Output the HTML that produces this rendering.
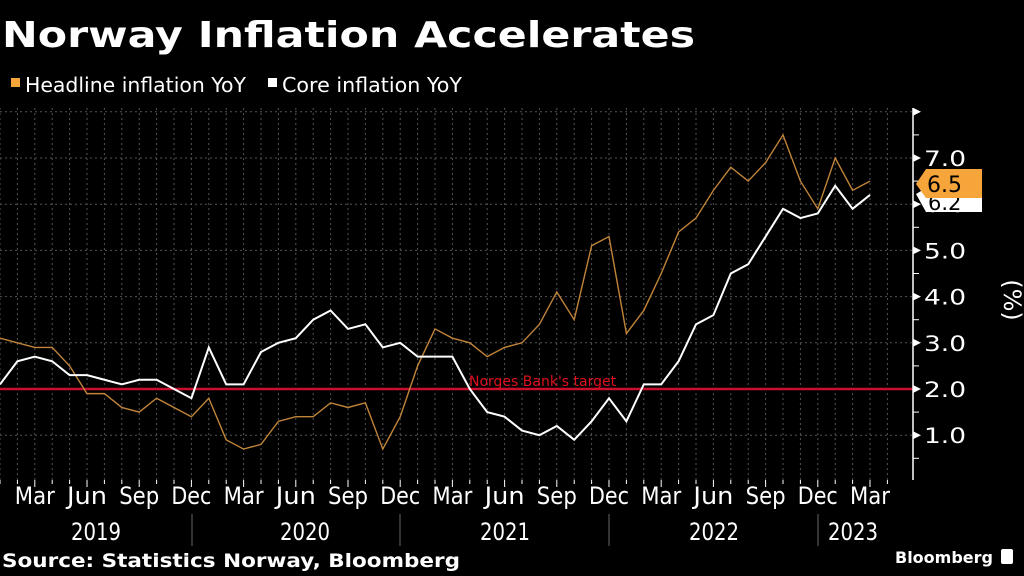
<!DOCTYPE html>
<html><head><meta charset="utf-8"><style>
html,body{margin:0;padding:0;background:#000;}
svg{display:block}
</style></head><body>
<svg id="s" width="1024" height="576" viewBox="0 0 1024 576" xmlns="http://www.w3.org/2000/svg" font-family="'DejaVu Sans', sans-serif">
<rect width="1024" height="576" fill="#000"/>
<text x="2" y="47" fill="#fff" font-size="36" font-weight="bold" textLength="693" lengthAdjust="spacingAndGlyphs">Norway Inflation Accelerates</text>
<rect x="11" y="78" width="9" height="9" fill="#f6a53b"/>
<text x="25" y="92" fill="#fff" font-size="20" textLength="221" lengthAdjust="spacingAndGlyphs">Headline inflation YoY</text>
<rect x="268" y="78" width="9" height="9" fill="#fff"/>
<text x="282" y="92" fill="#fff" font-size="20" textLength="180" lengthAdjust="spacingAndGlyphs">Core inflation YoY</text>
<g id="grid"></g>
<line x1="0" y1="389" x2="913" y2="389" stroke="#c8102e" stroke-width="2.5"/>
<text x="469" y="386" fill="#e0101e" font-size="14">Norges Bank's target</text>
<polyline id="h" fill="none" stroke="#c0843a" stroke-width="1.4"/>
<polyline id="c" fill="none" stroke="#fff" stroke-width="2"/>
<line x1="913" y1="108" x2="913" y2="480" stroke="#fff" stroke-width="1.5"/>
<g id="ax" fill="#fff" font-size="21"></g>
<text transform="translate(1004,300) rotate(90)" fill="#fff" font-size="24" text-anchor="middle">(%)</text>
<polygon points="916,194 926,188 982,188 982,212 926,212" fill="#fff"/>
<text x="928" y="210" fill="#000" font-size="21">6.2</text>
<polygon points="916,184 926,169 982,169 982,198 926,198" fill="#f6a53b"/>
<text x="927" y="192" fill="#000" font-size="22">6.5</text>
<g id="xl" fill="#fff" font-size="24"></g>
<text x="2" y="567" fill="#fff" font-size="19" font-weight="bold" textLength="458" lengthAdjust="spacingAndGlyphs">Source: Statistics Norway, Bloomberg</text>
<text x="895" y="563" fill="#fff" font-size="16" font-weight="bold" textLength="98" lengthAdjust="spacingAndGlyphs">Bloomberg</text>
<rect x="1001" y="549" width="12" height="15" rx="2" fill="#fff"/>
</svg>
<script>
var NS="http://www.w3.org/2000/svg";
function el(t,a,p){var e=document.createElementNS(NS,t);for(var k in a)e.setAttribute(k,a[k]);(p||document.getElementById('s')).appendChild(e);return e;}
var dx=17.4;function X(i){return i*dx;}function Y(v){return 389-(v-2)*46.2;}
var g=document.getElementById('grid');
for(var i=0;i<=51;i++){el('line',{x1:X(i),y1:108,x2:X(i),y2:480,stroke:'#555','stroke-width':1,'stroke-dasharray':'2,3'},g);}
for(var v=1;v<=8;v++){el('line',{x1:0,y1:Y(v),x2:913,y2:Y(v),stroke:'#555','stroke-width':1,'stroke-dasharray':'2,3'},g);}
var H=[3.1,3.0,2.9,2.9,2.5,1.9,1.9,1.6,1.5,1.8,1.6,1.4,1.8,0.9,0.7,0.8,1.3,1.4,1.4,1.7,1.6,1.7,0.7,1.4,2.5,3.3,3.1,3.0,2.7,2.9,3.0,3.4,4.1,3.5,5.1,5.3,3.2,3.7,4.5,5.4,5.7,6.3,6.8,6.5,6.9,7.5,6.5,5.9,7.0,6.3,6.5];
var C=[2.1,2.6,2.7,2.6,2.3,2.3,2.2,2.1,2.2,2.2,2.0,1.8,2.9,2.1,2.1,2.8,3.0,3.1,3.5,3.7,3.3,3.4,2.9,3.0,2.7,2.7,2.7,2.0,1.5,1.4,1.1,1.0,1.2,0.9,1.3,1.8,1.3,2.1,2.1,2.6,3.4,3.6,4.5,4.7,5.3,5.9,5.7,5.8,6.4,5.9,6.2];
document.getElementById('h').setAttribute('points',H.map(function(v,i){return X(i)+','+Y(v)}).join(' '));
document.getElementById('c').setAttribute('points',C.map(function(v,i){return X(i)+','+Y(v)}).join(' '));
var ax=document.getElementById('ax');
for(var v=0.5;v<=8.01;v+=0.5){var y=Y(v);if(y<108||y>480)continue;
 if(Math.abs(v-Math.round(v))<0.01){el('polygon',{points:'913,'+(y-4)+' 921,'+y+' 913,'+(y+4),fill:'#fff'},ax);
  if(v<=7){var t=el('text',{x:924,y:y+8,textLength:42,lengthAdjust:'spacingAndGlyphs'},ax);t.textContent=v.toFixed(1);}}
 else el('line',{x1:913,y1:y,x2:919,y2:y,stroke:'#fff','stroke-width':1},ax);}
var xl=document.getElementById('xl');
for(var i=0;i<=51;i++){el('line',{x1:X(i),y1:480,x2:X(i),y2:i%3==2?487:484,stroke:'#fff','stroke-width':1},xl);}
var m=['Mar','Jun','Sep','Dec'];
for(var k=0;k<17;k++){var i=2+3*k;var t=el('text',{x:X(i),y:504,'text-anchor':'middle',textLength:40,lengthAdjust:'spacingAndGlyphs'},xl);t.textContent=m[k%4];}
[[96,'2019'],[305,'2020'],[505,'2021'],[714,'2022'],[853,'2023']].forEach(function(a){var t=el('text',{x:a[0],y:540,'text-anchor':'middle',textLength:50,lengthAdjust:'spacingAndGlyphs'},xl);t.textContent=a[1];});
[192,400,609,818].forEach(function(x){el('line',{x1:x,y1:514,x2:x,y2:546,stroke:'#666','stroke-width':1},xl);});
</script>
</body></html>
